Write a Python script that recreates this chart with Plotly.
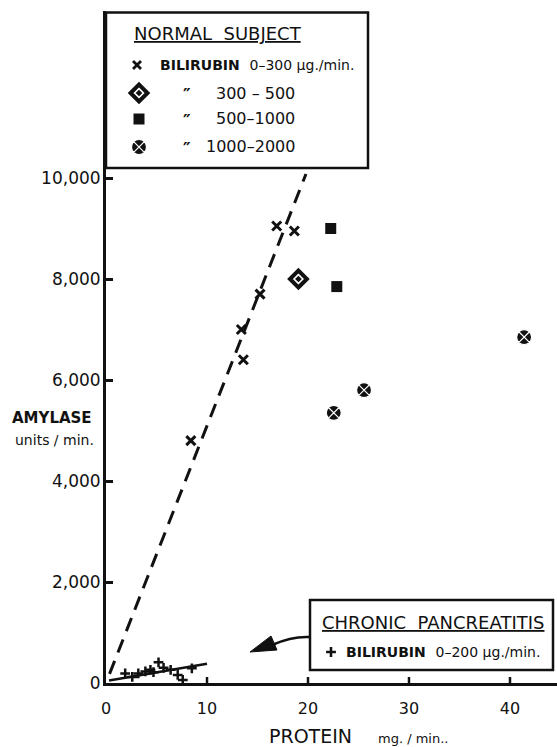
import plotly.graph_objects as go

# ---------------- data ----------------
NORMAL_X_PROTEIN = [8.4, 13.6, 13.4, 15.25, 16.9, 18.65]
NORMAL_X_AMYLASE = [4800, 6400, 7000, 7700, 9050, 8950]

DIAMOND_PROTEIN = [19.05]
DIAMOND_AMYLASE = [8000]

SQUARE_PROTEIN = [22.25, 22.85]
SQUARE_AMYLASE = [9000, 7850]

CIRCLE_PROTEIN = [22.55, 25.55, 41.4]
CIRCLE_AMYLASE = [5350, 5800, 6850]

CP_PROTEIN = [1.9, 2.6, 3.2, 3.9, 4.4, 4.7, 5.2, 5.7, 6.4, 7.1, 7.6, 8.5]
CP_AMYLASE = [190, 120, 190, 230, 260, 215, 410, 300, 260, 160, 60, 290]

NORMAL_FIT_PROTEIN = [0.35, 19.8]
NORMAL_FIT_AMYLASE = [180, 10080]

CP_FIT_PROTEIN = [0.3, 10.0]
CP_FIT_AMYLASE = [50, 380]

X_TICKS = [0, 10, 20, 30, 40]
X_TICK_LABELS = ["0", "10", "20", "30", "40"]
Y_TICKS = [0, 2000, 4000, 6000, 8000, 10000]
Y_TICK_LABELS = ["0", "2,000", "4,000", "6,000", "8,000", "10,000"]

# ---------------- layout geometry ----------------
W, H = 557, 747
L, B, T, R = 106, 64, 11, 0
XS = 10.1          # px per protein unit
YS = 0.0505        # px per amylase unit
PW, PH = W - L - R, H - T - B
X_RANGE = [0, PW / XS]
Y_RANGE = [0, PH / YS]


def X(px):
    return (px - L) / XS


def Y(py):
    return (H - B - py) / YS


def PX(px):
    return (px - L) / PW


def PY(py):
    return (H - B - py) / PH


FONT = "DejaVu Sans"
INK = "#111111"

fig = go.Figure()

# fit lines
fig.add_trace(go.Scatter(x=NORMAL_FIT_PROTEIN, y=NORMAL_FIT_AMYLASE, mode="lines",
                         line=dict(color=INK, width=3, dash="14px,9px"),
                         showlegend=False, cliponaxis=False))
fig.add_trace(go.Scatter(x=CP_FIT_PROTEIN, y=CP_FIT_AMYLASE, mode="lines",
                         line=dict(color=INK, width=2.5),
                         showlegend=False, cliponaxis=False))

DIAMOND_MK = dict(symbol="diamond-open-dot", size=13, color=INK, line=dict(color=INK, width=4))
SQUARE_MK = dict(symbol="square", size=11, color=INK, line=dict(width=0))
CIRCLE_MK = dict(symbol="circle-x", size=15, color=INK, line=dict(color="white", width=1.2))
XMK = dict(symbol="x-thin", size=9, line=dict(color=INK, width=3))
PLUS_MK = dict(symbol="cross-thin", size=7, line=dict(color=INK, width=2.5))

# data points
fig.add_trace(go.Scatter(x=NORMAL_X_PROTEIN, y=NORMAL_X_AMYLASE, mode="markers",
                         marker=XMK, showlegend=False, cliponaxis=False))
fig.add_trace(go.Scatter(x=DIAMOND_PROTEIN, y=DIAMOND_AMYLASE, mode="markers",
                         marker=DIAMOND_MK, showlegend=False, cliponaxis=False))
fig.add_trace(go.Scatter(x=SQUARE_PROTEIN, y=SQUARE_AMYLASE, mode="markers",
                         marker=SQUARE_MK, showlegend=False, cliponaxis=False))
fig.add_trace(go.Scatter(x=CIRCLE_PROTEIN, y=CIRCLE_AMYLASE, mode="markers",
                         marker=CIRCLE_MK, showlegend=False, cliponaxis=False))
fig.add_trace(go.Scatter(x=CP_PROTEIN, y=CP_AMYLASE, mode="markers",
                         marker=PLUS_MK, showlegend=False, cliponaxis=False))

# legend symbols (drawn inside the hand-made legend boxes)
fig.add_trace(go.Scatter(x=[X(137)], y=[Y(65)], mode="markers",
                         marker=dict(symbol="x-thin", size=8, line=dict(color=INK, width=2.8)),
                         showlegend=False, cliponaxis=False))
fig.add_trace(go.Scatter(x=[X(139)], y=[Y(93)], mode="markers",
                         marker=DIAMOND_MK, showlegend=False, cliponaxis=False))
fig.add_trace(go.Scatter(x=[X(139)], y=[Y(119)], mode="markers",
                         marker=SQUARE_MK, showlegend=False, cliponaxis=False))
fig.add_trace(go.Scatter(x=[X(139)], y=[Y(147)], mode="markers",
                         marker=CIRCLE_MK, showlegend=False, cliponaxis=False))
fig.add_trace(go.Scatter(x=[X(331)], y=[Y(652)], mode="markers",
                         marker=PLUS_MK, showlegend=False, cliponaxis=False))

shapes = []
# x-axis crossing ticks
for v in X_TICKS[1:]:
    shapes.append(dict(type="line", xref="x", yref="y", ysizemode="pixel", yanchor=0,
                       x0=v, x1=v, y0=-6, y1=6, line=dict(color=INK, width=2.5)))

# legend boxes
shapes.append(dict(type="rect", xref="x", yref="y", x0=X(L), x1=X(368), y0=Y(12.5), y1=Y(168),
                   line=dict(color=INK, width=2.5), fillcolor="white", layer="below"))
shapes.append(dict(type="rect", xref="x", yref="y", x0=X(310), x1=X(553), y0=Y(600), y1=Y(670),
                   line=dict(color=INK, width=2.5), fillcolor="white", layer="below"))

# curved arrow from chronic pancreatitis box
shapes.append(dict(type="path", xref="x", yref="y",
                   path=f"M {X(310)},{Y(637)} Q {X(292)},{Y(636)} {X(272)},{Y(645)}",
                   line=dict(color=INK, width=2.5)))
shapes.append(dict(type="path", xref="x", yref="y",
                   path=f"M {X(250)},{Y(652)} L {X(271)},{Y(636)} L {X(277)},{Y(650)} Z",
                   line=dict(color=INK, width=1), fillcolor=INK))

annotations = []


def txt(text, px, py, size, anchor="center"):
    annotations.append(dict(text=text, x=PX(px), y=PY(py), xref="paper", yref="paper",
                            xanchor=anchor, yanchor="middle", showarrow=False,
                            font=dict(family=FONT, size=size, color=INK)))


# legend 1 text
txt("<u>NORMAL  SUBJECT</u>", 218, 33, 18)
txt("<b>BILIRUBIN  </b>0–300 µg./min.", 158, 65, 14, anchor="left")
for yy in (93, 119, 147):
    txt("<b>″</b>", 187, yy + 2, 17)
txt("300 – 500", 297, 93, 16, anchor="right")
txt("500–1000", 297, 119, 16, anchor="right")
txt("1000–2000", 297, 147, 16, anchor="right")

# legend 2 text
txt("<u>CHRONIC  PANCREATITIS</u>", 433, 622, 18)
txt("<b>BILIRUBIN  </b>0–200 µg./min.", 344, 652, 14, anchor="left")

# axis titles
txt("<b>AMYLASE</b>", 52, 418, 15)
txt("units / min.", 54, 440, 14)
txt("PROTEIN", 310, 736, 19)
txt("mg. / min..", 413, 738, 13)

fig.update_layout(
    width=W, height=H,
    margin=dict(l=L, r=R, t=T, b=B, pad=0),
    paper_bgcolor="white", plot_bgcolor="white",
    showlegend=False,
    shapes=shapes, annotations=annotations,
    xaxis=dict(range=X_RANGE, showgrid=False, zeroline=False, showline=True,
               linecolor=INK, linewidth=3, ticks="", tickvals=X_TICKS, ticktext=X_TICK_LABELS,
               ticklabelstandoff=9, tickfont=dict(family=FONT, size=16, color=INK),
               fixedrange=True),
    yaxis=dict(range=Y_RANGE, showgrid=False, zeroline=False, showline=True,
               linecolor=INK, linewidth=3, ticks="inside", ticklen=7, tickwidth=2.5,
               tickcolor=INK, tickvals=Y_TICKS, ticktext=Y_TICK_LABELS,
               ticklabelstandoff=-1, tickfont=dict(family=FONT, size=17, color=INK),
               fixedrange=True),
)

fig.write_html("out.html")
